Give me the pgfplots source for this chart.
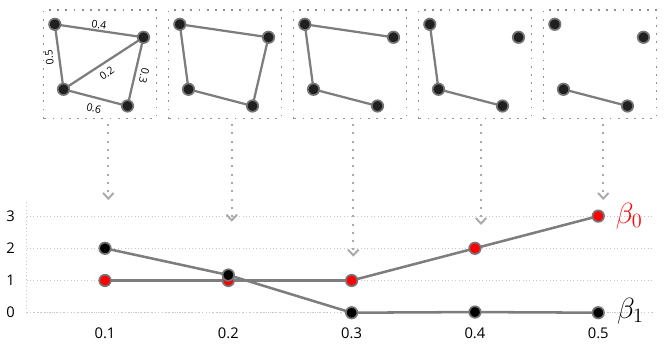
\documentclass[border=0pt]{standalone}
\usepackage{pgfplots}
\usepackage{pgfplotstable}
\pgfplotsset{compat=1.18}
\usepackage{fontspec}
\setmainfont{Open Sans}
\usetikzlibrary{arrows.meta}

\definecolor{edgegray}{RGB}{125,125,125}
\definecolor{rimgray}{RGB}{118,118,118}
\definecolor{nodeblack}{RGB}{32,32,32}
\definecolor{boxdots}{RGB}{145,145,145}
\definecolor{arrowgray}{RGB}{170,170,170}
\definecolor{gridgray}{RGB}{200,200,200}
\definecolor{betared}{RGB}{255,0,0}

% vertex positions inside each little box (same layout in all five)
\pgfplotstableread{
x y
11.3 94.2
100 81.2
20 29.2
84 12.5
}\vertices

% Betti numbers against the threshold
\pgfplotstableread{
t b
0.1 1
0.2 1
0.3 1
0.4 2
0.5 3
}\betazero
\pgfplotstableread{
t b
0.1 2
0.2 1.17
0.3 0
0.4 0.02
0.5 0
}\betaone

\pgfplotsset{
  graphbox/.style={
    scale only axis, width=2.825cm, height=2.7125cm,
    xmin=0, xmax=113, ymin=0, ymax=108.5,
    xtick=\empty, ytick=\empty, clip=false,
    axis line style={boxdots, line width=1.3pt, dash pattern=on 1.3pt off 4.5pt},
  },
  edge/.style={edgegray, line width=1.6pt, line join=round, no markers},
  vertex/.style={only marks, mark=*, mark size=4.1pt,
    mark options={fill=nodeblack, draw=rimgray, line width=1.2pt}},
}

\begin{document}
\begin{tikzpicture}
\useasboundingbox (0,0) rectangle (16.625cm,8.825cm);

% ---- threshold 0.1: every edge
\begin{axis}[graphbox, at={(1.0875cm,5.8625cm)}]
  \addplot[edge] coordinates {(20,29.2) (11.3,94.2) (100,81.2) (84,12.5) (20,29.2) (100,81.2)};
  \addplot[vertex] table {\vertices};
  \begin{scope}[font=\fontsize{7.5}{8}\selectfont, inner sep=0pt]
  \node[rotate=-8]   at (axis cs:55.5,93.5) {0.4};
  \node[rotate=97]   at (axis cs:5.8,61.2)  {0.5};
  \node[rotate=35]   at (axis cs:63.2,45.2) {0.2};
  \node[rotate=-103] at (axis cs:100.5,42.5) {0.3};
  \node[rotate=-14]  at (axis cs:50.5,10.2) {0.6};
  \end{scope}
\end{axis}

% ---- threshold 0.2
\begin{axis}[graphbox, at={(4.2125cm,5.8625cm)}]
  \addplot[edge] coordinates {(20,29.2) (11.3,94.2) (100,81.2) (84,12.5) (20,29.2)};
  \addplot[vertex] table {\vertices};
\end{axis}

% ---- threshold 0.3
\begin{axis}[graphbox, at={(7.3375cm,5.8625cm)}]
  \addplot[edge] coordinates {(100,81.2) (11.3,94.2) (20,29.2) (84,12.5)};
  \addplot[vertex] table {\vertices};
\end{axis}

% ---- threshold 0.4
\begin{axis}[graphbox, at={(10.4625cm,5.8625cm)}]
  \addplot[edge] coordinates {(11.3,94.2) (20,29.2) (84,12.5)};
  \addplot[vertex] table {\vertices};
\end{axis}

% ---- threshold 0.5
\begin{axis}[graphbox, at={(13.5875cm,5.8625cm)}]
  \addplot[edge] coordinates {(20,29.2) (84,12.5)};
  \addplot[vertex] table {\vertices};
\end{axis}

% ---- Betti curves
\begin{axis}[
  at={(0.6675cm,1.0075cm)}, anchor=south west,
  scale only axis, width=15.63cm, height=2.8175cm,
  xmin=0.0365, xmax=0.5435, ymin=0, ymax=3.5,
  axis x line=bottom, axis y line=left,
  axis line style={-, gridgray, line width=0.6pt, dotted},
  xtick={0.1,0.2,0.3,0.4,0.5}, xticklabels={0.1,0.2,0.3,0.4,0.5},
  ytick={0,1,2,3}, yticklabels={0,1,2,3},
  major tick length=0pt,
  ymajorgrids, grid style={gridgray, dotted, line width=0.6pt},
  tick label style={font=\fontsize{10.5}{12}\selectfont},
  xticklabel style={yshift=-7.5pt},
  yticklabel style={xshift=-5pt},
  clip=false,
]
  \addplot[edgegray, line width=1.8pt, line join=round, mark=*, mark size=4.1pt,
    mark options={fill=betared, draw=rimgray, line width=1.2pt}] table {\betazero};
  \addplot[edgegray, line width=1.8pt, line join=round, mark=*, mark size=4.1pt,
    mark options={fill=black, draw=rimgray, line width=1.2pt}] table {\betaone};
  \node[anchor=west, inner sep=0pt, text=betared, font=\fontsize{21.5}{24}\selectfont]
    at (axis cs:0.514,3) {$\beta_0$};
  \node[anchor=west, inner sep=0pt, font=\fontsize{21.5}{24}\selectfont]
    at (axis cs:0.515,0.05) {$\beta_1$};
\end{axis}

% ---- dotted arrows from each box down to its threshold
\begin{scope}[arrowgray, line width=1.4pt, dash pattern=on 1.4pt off 4.5pt,
  -{Straight Barb[length=4pt, width=7.5pt, line width=1.4pt]}]
  \draw (2.7075cm,5.725cm) -- (2.7075cm,3.825cm);
  \draw (5.7925cm,5.725cm) -- (5.7925cm,3.2825cm);
  \draw (8.8325cm,5.725cm) -- (8.8325cm,2.4075cm);
  \draw (12.025cm,5.725cm) -- (12.025cm,3.2cm);
  \draw (15.0825cm,5.725cm) -- (15.0825cm,3.825cm);
\end{scope}
\end{tikzpicture}
\end{document}
